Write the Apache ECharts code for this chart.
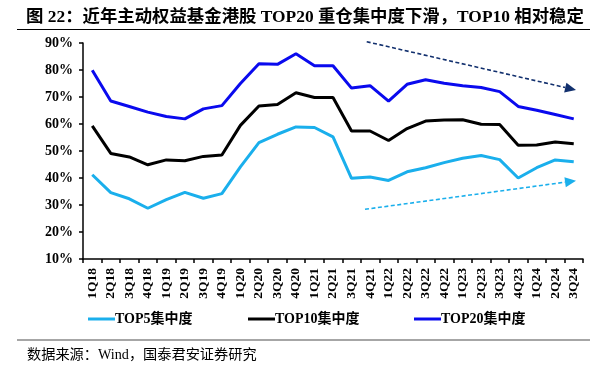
<!DOCTYPE html>
<html>
<head>
<meta charset="utf-8">
<script src="https://cdn.jsdelivr.net/npm/echarts@6/dist/echarts.min.js"></script>
<style>
html,body{margin:0;padding:0;background:#fff;}
#c{width:609px;height:368px;}
</style>
</head>
<body>
<div id="c"></div>
<script>
const categories = ['1Q18','2Q18','3Q18','4Q18','1Q19','2Q19','3Q19','4Q19','1Q20','2Q20','3Q20','4Q20','1Q21','2Q21','3Q21','4Q21','1Q22','2Q22','3Q22','4Q22','1Q23','2Q23','3Q23','4Q23','1Q24','2Q24','3Q24'];
const top5 = [41.2,34.6,32.3,28.8,32.0,34.7,32.5,34.2,44.1,53.1,56.2,58.9,58.7,55.2,39.9,40.4,39.1,42.3,43.8,45.7,47.3,48.3,46.8,40.0,43.8,46.7,46.0];
const top10 = [59.3,49.1,47.8,44.9,46.7,46.4,48.0,48.5,59.5,66.7,67.2,71.6,69.8,69.8,57.4,57.4,53.9,58.3,61.1,61.5,61.6,59.9,59.8,52.1,52.2,53.3,52.7];
const top20 = [79.9,68.5,66.5,64.4,62.8,61.9,65.6,66.8,75.0,82.3,82.1,86.0,81.6,81.6,73.3,74.2,68.5,74.7,76.4,75.1,74.2,73.5,72.0,66.5,65.1,63.5,61.9];
const yTicks = {min:10, max:90, interval:10};
const seriesNames = ['TOP5集中度','TOP10集中度','TOP20集中度'];

const serif = '"Liberation Serif","Times New Roman","Noto Sans CJK SC",serif';
const chart = echarts.init(document.getElementById('c'), null, {renderer:'canvas'});

function arrow(x1,y1,x2,y2,color){
  const ang = Math.atan2(y2-y1,x2-x1);
  const L = 11, W = 5;
  const bx = x2 - L*Math.cos(ang), by = y2 - L*Math.sin(ang);
  const px = -Math.sin(ang)*W, py = Math.cos(ang)*W;
  return [
    {type:'line', shape:{x1:x1,y1:y1,x2:bx,y2:by}, style:{stroke:color, lineWidth:1.6, lineDash:[4,2.5]}, silent:true},
    {type:'polygon', shape:{points:[[x2,y2],[bx+px,by+py],[bx-px,by-py]]}, style:{fill:color}, silent:true}
  ];
}

const legendText = {fontFamily:serif, fontWeight:'bold', fontSize:14, color:'#000', padding:[0,0,0,-5]};
const lineStyle = (c)=>({color:c, width:3});
const option = {
  backgroundColor:'#fff',
  animation:false,
  title:{
    text:'图 22：近年主动权益基金港股 TOP20 重仓集中度下滑，TOP10 相对稳定',
    left:21, top:4,
    textStyle:{fontFamily:serif, fontWeight:'bold', fontSize:17.4, color:'#000'}
  },
  grid:{left:83, right:26, top:43, bottom:109},
  legend:[
    {data:[seriesNames[0]], left:83, top:307, icon:'rect', itemWidth:27, itemHeight:3, itemGap:0, textStyle:legendText},
    {data:[seriesNames[1]], left:243, top:307, icon:'rect', itemWidth:27, itemHeight:3, itemGap:0, textStyle:legendText},
    {data:[seriesNames[2]], left:409, top:307, icon:'rect', itemWidth:27, itemHeight:3, itemGap:0, textStyle:legendText}
  ],
  xAxis:{
    type:'category', data:categories, boundaryGap:true,
    axisLine:{lineStyle:{color:'#000', width:1.5}},
    axisTick:{show:true, length:4, lineStyle:{color:'#000', width:1.5}, alignWithLabel:false},
    axisLabel:{rotate:90, interval:0, fontFamily:serif, fontWeight:'bold', fontSize:13.5, color:'#000', margin:9},
    splitLine:{show:false}
  },
  yAxis:{
    type:'value', min:yTicks.min, max:yTicks.max, interval:yTicks.interval,
    axisLine:{show:true, lineStyle:{color:'#000', width:1.5}},
    axisTick:{show:true, length:4, lineStyle:{color:'#000', width:1.5}},
    axisLabel:{formatter:'{value}%', fontFamily:serif, fontWeight:'bold', fontSize:14, color:'#000', margin:10},
    splitLine:{show:false}
  },
  series:[
    {name:seriesNames[0], type:'line', data:top5, symbol:'none', itemStyle:{color:'#1AAFEC'}, lineStyle:lineStyle('#1AAFEC')},
    {name:seriesNames[1], type:'line', data:top10, symbol:'none', itemStyle:{color:'#000000'}, lineStyle:lineStyle('#000000')},
    {name:seriesNames[2], type:'line', data:top20, symbol:'none', itemStyle:{color:'#0A0AEE'}, lineStyle:lineStyle('#0A0AEE')}
  ],
  graphic:[
    {type:'line', shape:{x1:17,y1:29.5,x2:590,y2:29.5}, style:{stroke:'#000', lineWidth:1}, silent:true},
    {type:'line', shape:{x1:17,y1:340,x2:590,y2:340}, style:{stroke:'#888', lineWidth:1.5}, silent:true},
    {type:'text', left:27, top:348, style:{text:'数据来源：Wind，国泰君安证券研究', font:'14.2px '+serif, fill:'#000'}, silent:true}
  ].concat(arrow(366.7,41.7,576,90,'#12306E')).concat(arrow(365,209.3,576,180.7,'#1AAFEC'))
};
chart.setOption(option);
</script>
</body>
</html>
